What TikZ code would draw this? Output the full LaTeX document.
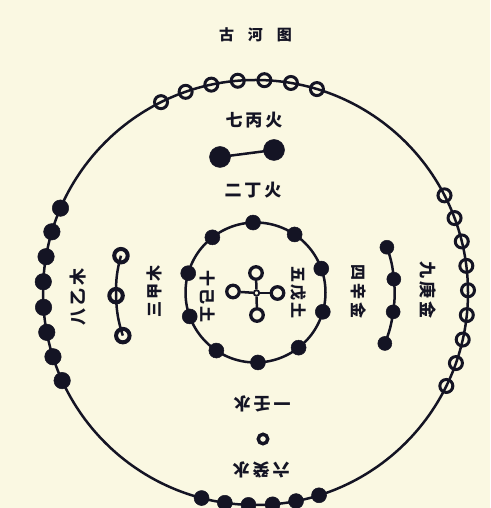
\documentclass[tikz,border=0pt]{standalone}
\usepackage{fontspec}
\newfontfamily\cjk{Noto Sans CJK SC}
\usetikzlibrary{calc}
\definecolor{bg}{RGB}{250,248,226}
\definecolor{ink}{RGB}{20,20,36}
\begin{document}
\begin{tikzpicture}[x=1pt,y=1pt,
  openbead/.style={circle,draw=ink,line width=3pt,minimum size=13pt,inner sep=0pt},
  fullbead/.style={circle,draw=ink,fill=ink,line width=0.5pt,minimum size=16.5pt,inner sep=0pt},
  innerbead/.style={circle,draw=ink,fill=ink,line width=0.5pt,minimum size=15pt,inner sep=0pt},
  smallbead/.style={circle,draw=ink,fill=ink,line width=0.5pt,minimum size=14pt,inner sep=0pt},
  bigbead/.style={circle,draw=ink,fill=ink,line width=0.5pt,minimum size=21pt,inner sep=0pt},
  ringbead/.style={circle,draw=ink,line width=4pt,minimum size=13.5pt,inner sep=0pt},
  crossbead/.style={circle,draw=ink,fill=bg,line width=3.3pt,minimum size=12.5pt,inner sep=0pt},
  hubbead/.style={circle,draw=ink,fill=bg,line width=1.8pt,minimum size=5.5pt,inner sep=0pt},
  link/.style={draw=ink,line width=2.5pt},
  lbl/.style={font=\cjk\bfseries\fontsize{17}{17}\selectfont,text=ink,inner sep=0pt},
  mid/.style={font=\cjk\bfseries\fontsize{16}{16}\selectfont,text=ink,inner sep=0pt},
  ttl/.style={font=\cjk\bfseries\fontsize{15}{15}\selectfont,text=ink,inner sep=0pt}]
\fill[bg] (0,0) rectangle (490,508);
\useasboundingbox (0,0) rectangle (490,508);
\clip (0,0) rectangle (490,508);
\coordinate (C) at (255.5,215.5);
% circles
\draw[link] (C) circle[radius=212.5];
\draw[link] (C) circle[radius=70];
% title
\node[ttl] (title) at (255.5,473) {古\hspace{14pt}河\hspace{14pt}图};
% outer beads
\foreach \a [count=\i] in {116.4,109.2,102.0,94.8,87.6,80.4,73.2}
  \node[openbead] (t\i) at ($(C)+(\a:212.5)$) {};
\foreach \a [count=\i] in {27.2,20.5,13.9,7.2,0.6,-6.1,-12.8,-19.4,-26.1}
  \node[openbead] (r\i) at ($(C)+(\a:212.5)$) {};
\foreach \a [count=\i] in {156.6,163.4,170.3,177.1,184.0,190.8,197.6,204.5}
  \node[fullbead] (l\i) at ($(C)+(\a:212.5)$) {};
\foreach \a [count=\i] in {-104.7,-98.3,-91.9,-85.4,-79.0,-72.6}
  \node[innerbead] (b\i) at ($(C)+(\a:212.5)$) {};
% inner ring beads (ten)
\foreach \a [count=\i] in {92,128,164,200,236,272,308,344,20,56}
  \node[innerbead] (e\i) at ($(C)+(\a:70)$) {};
% left arc (three)
\foreach \a [count=\i] in {164.7,181.3,198.0}
  \node[ringbead] (w\i) at ($(C)+(\a:139.5)$) {};
% right arc (four)
\foreach \a [count=\i] in {19.0,5.5,-8.0,-21.5}
  \node[smallbead] (m\i) at ($(C)+(\a:139)$) {};
% top pair
\node[bigbead] (d1) at (220,351) {};
\node[bigbead] (d2) at (274,358) {};
% centre cross
\node[hubbead] (x0) at (256.5,215) {};
\node[crossbead] (xt) at (256,235) {};
\node[crossbead] (xl) at (233,216.5) {};
\node[crossbead] (xr) at (277.5,215) {};
\node[crossbead] (xb) at (257,193) {};
% bottom single
\node[circle,draw=ink,fill=bg,line width=3.4pt,minimum size=9.5pt,inner sep=0pt] (o1) at (263,69) {};
% connectors
\draw[link] (d1.center) -- (d2.center);
\draw[link] (w1.center) to[bend right=8] (w2.center) to[bend right=8] (w3.center);
\draw[link] (m1.center) to[bend left=7] (m2.center) to[bend left=7] (m3.center) to[bend left=7] (m4.center);
\draw[link] (x0) -- (xt);
\draw[link] (x0) -- (xl);
\draw[link] (x0) -- (xr);
\draw[link] (x0) -- (xb);
% labels
\node[lbl] (n7) at (254,388) {七\hspace{3pt}丙\hspace{3pt}火};
\node[lbl] (n2) at (253,318) {二\hspace{3pt}丁\hspace{3pt}火};
\node[lbl,rotate=90] (n8) at (78,211) {八\hspace{3pt}乙\hspace{3pt}木};
\node[mid,rotate=90] (n3) at (154,216) {三\hspace{2pt}甲\hspace{2pt}木};
\node[mid,rotate=-90] (n10) at (208,211) {十\hspace{2pt}己\hspace{2pt}土};
\node[mid,rotate=-90] (n5) at (298,215) {五\hspace{2pt}戊\hspace{2pt}土};
\node[mid,rotate=-90] (n4) at (359,216) {四\hspace{3pt}辛\hspace{3pt}金};
\node[lbl,rotate=-90] (n9) at (428,218) {九\hspace{3pt}庚\hspace{3pt}金};
\node[lbl,rotate=180] (n1) at (262,104) {一\hspace{3pt}壬\hspace{3pt}水};
\node[lbl,rotate=180] (n6) at (261,38) {六\hspace{3pt}癸\hspace{3pt}水};
\end{tikzpicture}
\end{document}
